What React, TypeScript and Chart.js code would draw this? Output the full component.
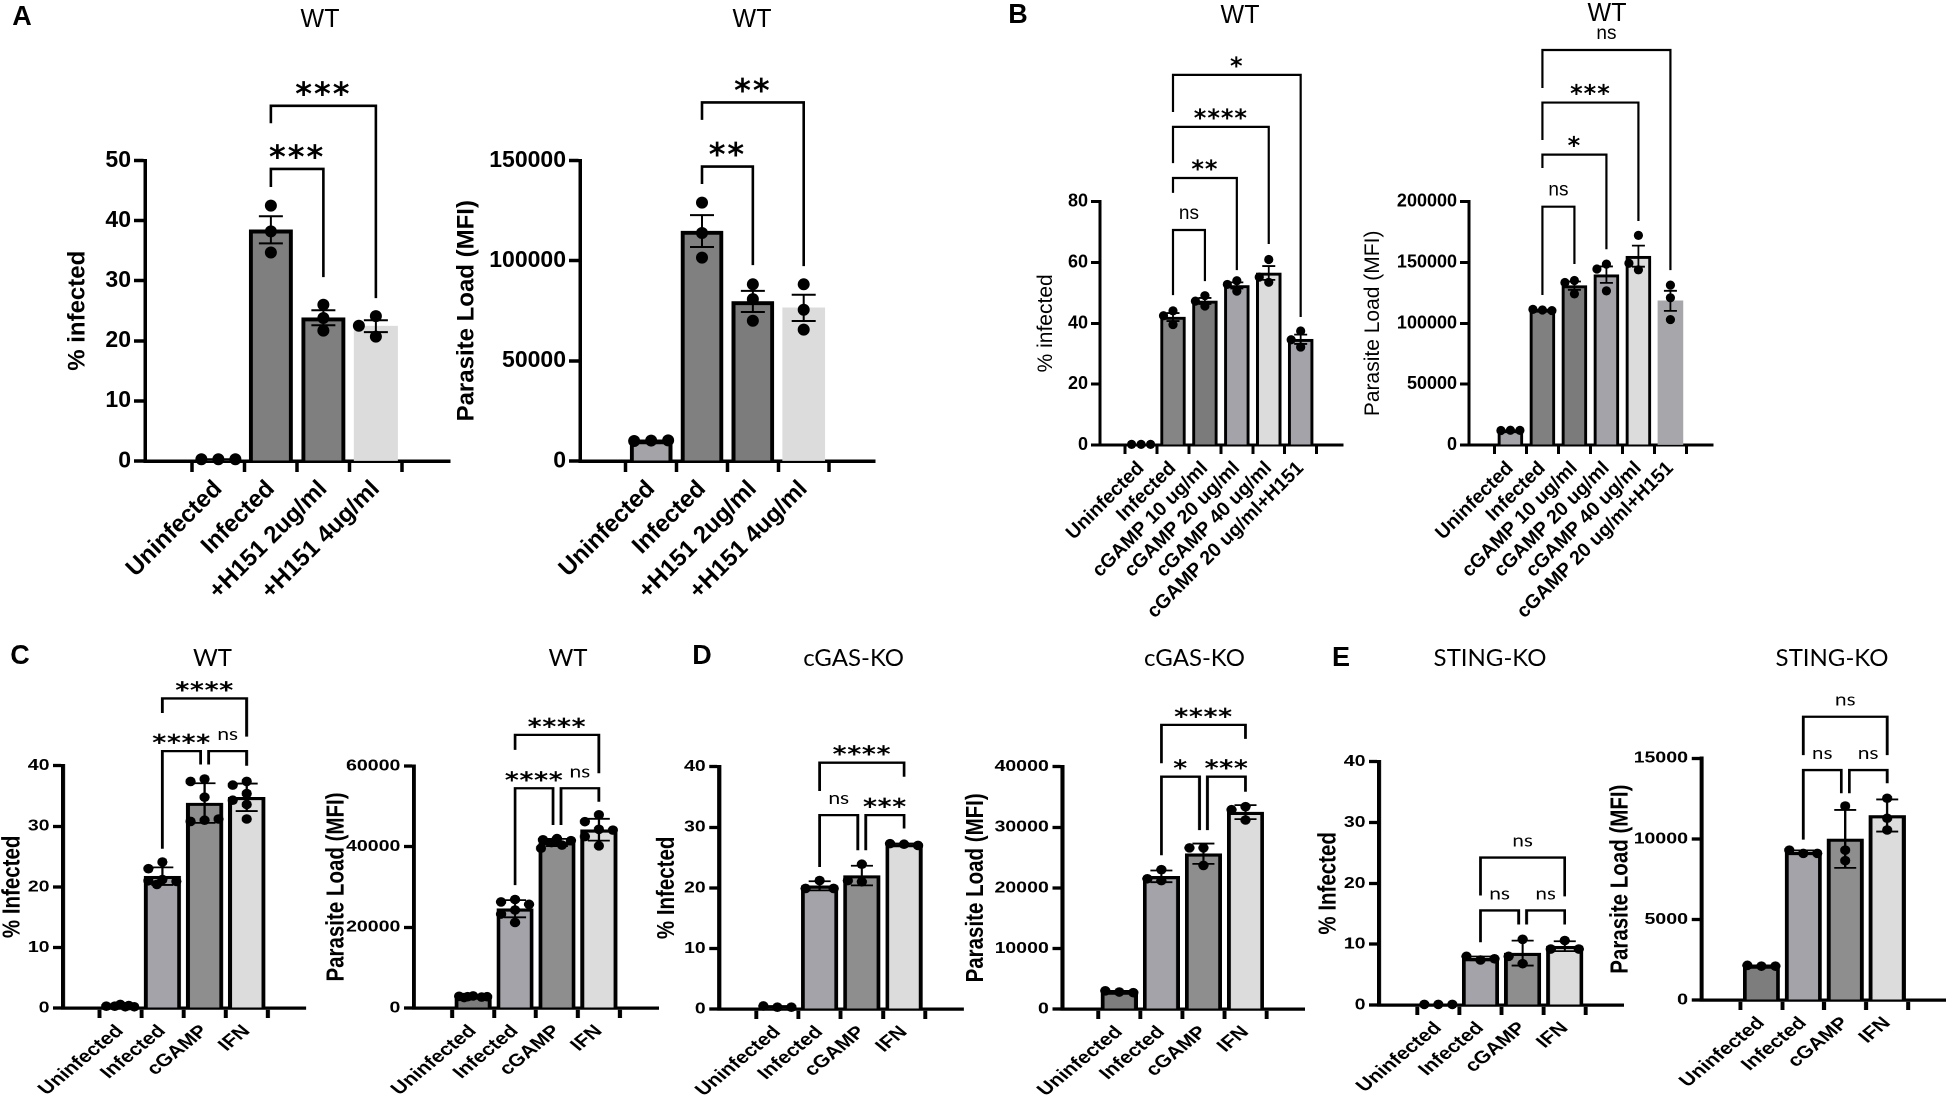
import { useEffect, useRef } from "react";
import { Chart, registerables } from "chart.js";
Chart.register(...registerables);

Chart.defaults.font.family = '"Liberation Sans", Arial, sans-serif';
Chart.defaults.color = "#000";

type Sig = [number, number, string];

// ---------- categories ----------
const catsA = ["Uninfected", "Infected", "+H151 2ug/ml", "+H151 4ug/ml"];
const catsB = ["Uninfected", "Infected", "cGAMP 10 ug/ml", "cGAMP 20 ug/ml", "cGAMP 40 ug/ml", "cGAMP 20 ug/ml+H151"];
const catsKO = ["Uninfected", "Infected", "cGAMP", "IFN"];

// ---------- y ticks ----------
const ticksA1 = [0, 10, 20, 30, 40, 50];
const ticksA2 = [0, 50000, 100000, 150000];
const ticksB1 = [0, 20, 40, 60, 80];
const ticksB2 = [0, 50000, 100000, 150000, 200000];
const ticksPct40 = [0, 10, 20, 30, 40];
const ticksC2 = [0, 20000, 40000, 60000];
const ticksD2 = [0, 10000, 20000, 30000, 40000];
const ticksE2 = [0, 5000, 10000, 15000];

// ---------- replicates (A, B: mean ± SEM; C-E: mean ± SD) ----------
const a1Uninfected = [0.3, 0.3, 0.3];
const a1Infected = [42.5, 38.2, 34.7];
const a1H151_2 = [26.0, 23.8, 21.7];
const a1H151_4 = [24.1, 20.7, 22.5];

const a2Uninfected = [10200, 10000, 10300];
const a2Infected = [129000, 113800, 101500];
const a2H151_2 = [88200, 80800, 70000];
const a2H151_4 = [88200, 75500, 65600];

const b1Uninfected = [0.2, 0.2, 0.2];
const b1Infected = [44.1, 39.6, 42.5];
const b1cGAMP10 = [49.1, 45.7, 47.3];
const b1cGAMP20 = [54.0, 50.6, 52.8];
const b1cGAMP40 = [61.0, 53.5, 55.2];
const b1cGAMP20H151 = [37.5, 32.2, 34.6];

const b2Uninfected = [12100, 11900, 12000];
const b2Infected = [111000, 111500, 110500];
const b2cGAMP10 = [135200, 124200, 133600];
const b2cGAMP20 = [148700, 126700, 144700];
const b2cGAMP40 = [172300, 144000, 149400];
const b2cGAMP20H151 = [131400, 121000, 103100];

const c1Uninfected = [0.6, 0.3, 0.2, 0.3, 0.2, 0.4];
const c1Infected = [24.1, 23.0, 21.2, 21.0, 20.9, 20.4];
const c1cGAMP = [37.8, 37.4, 31.0, 30.8, 31.2, 34.8];
const c1IFN = [37.4, 36.8, 35.4, 34.3, 33.6, 31.2];

const c2Uninfected = [3000, 2900, 2800, 2800, 2700, 2600];
const c2Infected = [26900, 26300, 25700, 24300, 23300, 21200];
const c2cGAMP = [42000, 41700, 41500, 41000, 40400, 39600];
const c2IFN = [47900, 46200, 44300, 44100, 42500, 40200];

const d1Uninfected = [0.3, 0.5, 0.3];
const d1Infected = [21.2, 19.9, 19.9];
const d1cGAMP = [23.9, 21.0, 21.2];
const d1IFN = [27.2, 27.3, 27.0];

const d2Uninfected = [2800, 3000, 2700];
const d2Infected = [23000, 21200, 21500];
const d2cGAMP = [26600, 23700, 26600];
const d2IFN = [33400, 31200, 32900];

const e1Uninfected = [0.1, 0.1, 0.1];
const e1Infected = [7.4, 8.0, 7.6];
const e1cGAMP = [10.8, 6.8, 8.0];
const e1IFN = [10.6, 9.2, 9.2];

const e2Uninfected = [2100, 2150, 2100];
const e2Infected = [9100, 9300, 9100];
const e2cGAMP = [12040, 9300, 8650];
const e2IFN = [12520, 11280, 10550];

// ---------- significance comparisons ----------
const sigA1: Sig[] = [[1, 2, "***"], [1, 3, "***"]];
const sigA2: Sig[] = [[1, 2, "**"], [1, 3, "**"]];
const sigB1: Sig[] = [[1, 2, "ns"], [1, 3, "**"], [1, 4, "****"], [1, 5, "*"]];
const sigB2: Sig[] = [[1, 2, "ns"], [1, 3, "*"], [1, 4, "***"], [1, 5, "ns"]];
const sigC: Sig[] = [[1, 2, "****"], [2, 3, "ns"], [1, 3, "****"]];
const sigD1: Sig[] = [[1, 2, "ns"], [2, 3, "***"], [1, 3, "****"]];
const sigD2: Sig[] = [[1, 2, "*"], [2, 3, "***"], [1, 3, "****"]];
const sigE: Sig[] = [[1, 2, "ns"], [2, 3, "ns"], [1, 3, "ns"]];

// ---------- styles ----------
const styleA = {
  k: 1, tickFont: 23, labelFont: 24, titleFont: 24, titleWeight: "bold", axisW: 3.5, tickLenX: 11, tickLenY: 11,
  barBorder: 4, errW: 2, capW: 24, r: 6, collide: 11.5, step: 17, maxOff: 17, bracketW: 2.6,
  starFont: 32, starSpacing: 2, nsFont: 19, nsFamily: '"Liberation Sans"', barPct: 0.62, xh: 200, padR: 10,
};
const styleB = {
  k: 1, tickFont: 18, labelFont: 19.5, titleFont: 21, titleWeight: "normal", axisW: 3, tickLenX: 9, tickLenY: 9,
  barBorder: 3, errW: 1.8, capW: 13, r: 4.6, collide: 8.5, step: 9.5, maxOff: 10, bracketW: 2.2,
  starFont: 24, starSpacing: 1, nsFont: 19, nsFamily: '"Liberation Sans"', barPct: 0.65, xh: 200, padR: 8,
};
const styleKO = {
  k: 1.22, tickFont: 16, labelFont: 17.5, titleFont: 20.5, titleWeight: "bold", axisW: 3.3, tickLenX: 10, tickLenY: 8,
  barBorder: 3.2, errW: 1.8, capW: 22, r: 4.8, collide: 9, step: 14, maxOff: 16, bracketW: 2.3,
  starFont: 22, starSpacing: 0.5, nsFont: 17, nsFamily: "Lato", barPct: 0.65, xh: 100, padR: 8,
};

const greysA1 = ["#a3a3a8", "#7f7f7f", "#7f7f7f", "#dcdcdc"];
const greysA2 = ["#a3a3a8", "#808080", "#7c7c7c", "#dcdcdc"];
const greysB1 = ["#a3a3a8", "#858585", "#7b7b7b", "#a3a3a9", "#dcdcdc", "#a3a3a9"];
const greysB2 = ["#a3a3a8", "#808080", "#7b7b7b", "#a3a3a9", "#dcdcdc", "#a6a6ab"];
const greysKO = ["#7d7d7d", "#a3a3a9", "#8e8e8e", "#dcdcdc"];

// ---------- panels (layout in page pixels, bracket heights in axis units) ----------
const PANELS = [
  {
    cats: catsA, groups: [a1Uninfected, a1Infected, a1H151_2, a1H151_4], ticks: ticksA1, sig: sigA1, err: "sem",
    yTitle: "% infected", colors: greysA1, borders: [1, 1, 1, 0], style: styleA,
    place: { left: 145, top: 160.5, right: 450, base: 460.7, tick0: 192, spacing: 70, titleOff: 67, rowTop: 0,
      brackets: [[48.6, 45.6, 30.6], [59.1, 56.2, 27.1]] },
  },
  {
    cats: catsA, groups: [a2Uninfected, a2Infected, a2H151_2, a2H151_4], ticks: ticksA2, sig: sigA2, err: "sem",
    yTitle: "Parasite Load (MFI)", colors: greysA2, borders: [1, 1, 1, 0], style: styleA,
    place: { left: 580, top: 160.5, right: 875, base: 460.7, tick0: 625.7, spacing: 67.8, titleOff: 113, rowTop: 0,
      brackets: [[146960, 138270, 97790], [179000, 170250, 97290]] },
  },
  {
    cats: catsB, groups: [b1Uninfected, b1Infected, b1cGAMP10, b1cGAMP20, b1cGAMP40, b1cGAMP20H151], ticks: ticksB1,
    sig: sigB1, err: "sem", yTitle: "% infected", colors: greysB1, borders: [1, 1, 1, 1, 1, 1], style: styleB,
    place: { left: 1100, top: 201.7, right: 1343, base: 445, tick0: 1125, spacing: 38.3, titleOff: 54, rowTop: 0,
      brackets: [[70.7, 49.3, 53.9], [87.8, 82.9, 57.5], [104.6, 92.7, 66.1], [121.7, 109.5, 42.1]] },
  },
  {
    cats: catsB, groups: [b2Uninfected, b2Infected, b2cGAMP10, b2cGAMP20, b2cGAMP40, b2cGAMP20H151], ticks: ticksB2,
    sig: sigB2, err: "sem", yTitle: "Parasite Load (MFI)", colors: greysB2, borders: [1, 1, 1, 1, 1, 0], style: styleB,
    place: { left: 1469, top: 201.7, right: 1713, base: 445, tick0: 1494.3, spacing: 38.4, titleOff: 96, rowTop: 0,
      brackets: [[195900, 123300, 148800], [238700, 227700, 160900], [281500, 250700, 184100], [324700, 293500, 143800]] },
  },
  {
    cats: catsKO, groups: [c1Uninfected, c1Infected, c1cGAMP, c1IFN], ticks: ticksPct40, sig: sigC, err: "sd",
    yTitle: "% Infected", colors: greysKO, borders: [1, 1, 1, 1], style: styleKO,
    place: { left: 63, top: 765.7, right: 306, base: 1007.7, tick0: 99, spacing: 56.2, titleOff: 50, rowTop: 665,
      brackets: [[42.4, 26.3, 40.2], [42.4, 40.2, 40.0], [51.1, 48.7, 44.8]] },
  },
  {
    cats: catsKO, groups: [c2Uninfected, c2Infected, c2cGAMP, c2IFN], ticks: ticksC2, sig: sigC, err: "sd",
    yTitle: "Parasite Load (MFI)", colors: greysKO, borders: [1, 1, 1, 1], style: styleKO,
    place: { left: 413.3, top: 766, right: 658, base: 1007.7, tick0: 451.7, spacing: 55.9, titleOff: 77, rowTop: 665,
      brackets: [[54480, 30470, 45370], [54480, 45370, 51150], [67710, 63990, 58200]] },
  },
  {
    cats: catsKO, groups: [d1Uninfected, d1Infected, d1cGAMP, d1IFN], ticks: ticksPct40, sig: sigD1, err: "sd",
    yTitle: "% Infected", colors: greysKO, borders: [1, 1, 1, 1], style: styleKO,
    place: { left: 719, top: 766.7, right: 963, base: 1008.3, tick0: 756, spacing: 56.3, titleOff: 52, rowTop: 665,
      brackets: [[32.0, 23.44, 26.2], [32.0, 26.2, 29.8], [40.66, 35.98, 38.35]] },
  },
  {
    cats: catsKO, groups: [d2Uninfected, d2Infected, d2cGAMP, d2IFN], ticks: ticksD2, sig: sigD2, err: "sd",
    yTitle: "Parasite Load (MFI)", colors: greysKO, borders: [1, 1, 1, 1], style: styleKO,
    place: { left: 1062, top: 766.7, right: 1304, base: 1008.3, tick0: 1097.7, spacing: 56.1, titleOff: 86, rowTop: 665,
      brackets: [[38350, 25390, 29530], [38350, 29530, 35870], [46910, 40570, 44600]] },
  },
  {
    cats: catsKO, groups: [e1Uninfected, e1Infected, e1cGAMP, e1IFN], ticks: ticksPct40, sig: sigE, err: "sd",
    yTitle: "% Infected", colors: greysKO, borders: [1, 1, 1, 1], style: styleKO,
    place: { left: 1378.6, top: 761.7, right: 1623, base: 1004.3, tick0: 1417.1, spacing: 56.2, titleOff: 50, rowTop: 665,
      brackets: [[15.55, 10.32, 13.24], [15.55, 13.24, 13.24], [24.24, 18.0, 17.86]] },
  },
  {
    cats: catsKO, groups: [e2Uninfected, e2Infected, e2cGAMP, e2IFN], ticks: ticksE2, sig: sigE, err: "sd",
    yTitle: "Parasite Load (MFI)", colors: greysKO, borders: [1, 1, 1, 1], style: styleKO,
    place: { left: 1701.5, top: 758.3, right: 1945.7, base: 1000, tick0: 1740.8, spacing: 55.9, titleOff: 80.5, rowTop: 665,
      brackets: [[14270, 9950, 12830], [14270, 12830, 13450], [17580, 15200, 15200]] },
  },
];

const LETTERS: [string, number, number][] = [["A", 22, 16], ["B", 1018, 14], ["C", 20, 655], ["D", 702, 655], ["E", 1341, 657]];
const TITLES: [string, number, number, number, string][] = [
  ["WT", 320, 18, 25, '"Liberation Sans"'],
  ["WT", 752, 18, 25, '"Liberation Sans"'],
  ["WT", 1240, 13.5, 25, '"Liberation Sans"'],
  ["WT", 1607, 11.5, 25, '"Liberation Sans"'],
  ["WT", 212.5, 657, 24, "Lato"],
  ["WT", 568, 657, 24, "Lato"],
  ["cGAS-KO", 853.6, 657, 24, "Lato"],
  ["cGAS-KO", 1194.5, 657, 24, "Lato"],
  ["STING-KO", 1490, 657, 24, "Lato"],
  ["STING-KO", 1832, 657, 24, "Lato"],
];

const mean = (a: number[]) => a.reduce((s, v) => s + v, 0) / a.length;
const sd = (a: number[]) => {
  const m = mean(a);
  return Math.sqrt(a.reduce((s, v) => s + (v - m) ** 2, 0) / (a.length - 1));
};
const sem = (a: number[]) => sd(a) / Math.sqrt(a.length);

// horizontal spread of replicate dots that would overlap (offsets in page px)
function swarm(ys: number[], collide: number, step: number, maxOff: number) {
  const placed: { o: number; y: number }[] = [];
  const cands = [0];
  for (let j = 1; j * step <= maxOff + 0.01; j++) cands.push(-j * step, j * step);
  const fine: number[] = [];
  for (let o = -maxOff; o <= maxOff + 0.01; o += step / 4) fine.push(o);
  return ys.map((y) => {
    let pick = cands.find((c) => placed.every((p) => Math.hypot(p.o - c, p.y - y) >= collide));
    if (pick === undefined) {
      let best = 0, bestD = -1;
      for (const c of fine) {
        const d = Math.min(...placed.map((p) => Math.hypot(p.o - c, p.y - y)));
        if (d > bestD) { bestD = d; best = c; }
      }
      pick = best;
    }
    placed.push({ o: pick, y });
    return pick;
  });
}

function overlay(panel: any, means: number[]) {
  const st = panel.style;
  const k = st.k;
  return {
    id: "overlay",
    afterDraw(chart: any) {
      const { ctx, chartArea } = chart;
      const xs = chart.scales.x;
      const ys = chart.scales.y;
      ctx.save();
      ctx.strokeStyle = "#000";
      ctx.fillStyle = "#000";
      ctx.lineCap = "butt";
      ctx.lineJoin = "miter";

      // error bars
      ctx.lineWidth = st.errW;
      panel.groups.forEach((vals: number[], i: number) => {
        const e = panel.err === "sem" ? sem(vals) : sd(vals);
        const x = xs.getPixelForValue(i);
        const y1 = ys.getPixelForValue(means[i] + e);
        const y2 = ys.getPixelForValue(Math.max(0, means[i] - e));
        const hw = st.capW / 2 / k;
        ctx.beginPath();
        ctx.moveTo(x, y1); ctx.lineTo(x, y2);
        ctx.moveTo(x - hw, y1); ctx.lineTo(x + hw, y1);
        ctx.moveTo(x - hw, y2); ctx.lineTo(x + hw, y2);
        ctx.stroke();
      });

      // replicate dots
      panel.groups.forEach((vals: number[], i: number) => {
        const x = xs.getPixelForValue(i);
        const py = vals.map((v) => ys.getPixelForValue(v));
        const off = swarm(py, st.collide, st.step, st.maxOff);
        py.forEach((y, j) => {
          ctx.beginPath();
          ctx.ellipse(x + off[j] / k, y, (st.r * (k > 1 ? 1.07 : 1)) / k, st.r, 0, 0, Math.PI * 2);
          ctx.fill();
        });
      });

      // significance brackets
      const br = panel.place.brackets;
      ctx.lineWidth = st.bracketW;
      panel.sig.forEach(([a, b, label]: Sig, j: number) => {
        const [yl, ya, yb] = br[j];
        const gap = 4 / k;
        const shareA = panel.sig.some((s: Sig, j2: number) => j2 !== j && br[j2][0] === yl && s[1] === a);
        const shareB = panel.sig.some((s: Sig, j2: number) => j2 !== j && br[j2][0] === yl && s[0] === b);
        const xa = xs.getPixelForValue(a) + (shareA ? gap : 0);
        const xb = xs.getPixelForValue(b) - (shareB ? gap : 0);
        const pl = ys.getPixelForValue(yl);
        ctx.beginPath();
        ctx.moveTo(xa, ys.getPixelForValue(ya));
        ctx.lineTo(xa, pl);
        ctx.lineTo(xb, pl);
        ctx.lineTo(xb, ys.getPixelForValue(yb));
        ctx.stroke();
        const ns = label === "ns";
        ctx.font = ns ? `${st.nsFont}px ${st.nsFamily}` : `bold ${st.starFont}px "DejaVu Sans"`;
        (ctx as any).letterSpacing = ns ? "0px" : `${st.starSpacing}px`;
        ctx.textAlign = "center";
        ctx.textBaseline = "alphabetic";
        ctx.fillText(label, (xa + xb) / 2, pl - (ns ? 11 : 1));
      });
      (ctx as any).letterSpacing = "0px";

      // y axis title
      ctx.translate(chartArea.left - panel.place.titleOff / k, (chartArea.top + chartArea.bottom) / 2);
      ctx.rotate(-Math.PI / 2);
      ctx.font = `${st.titleWeight} ${st.titleFont}px "Liberation Sans"`;
      ctx.textAlign = "center";
      ctx.textBaseline = "middle";
      ctx.fillText(panel.yTitle, 0, 0);
      ctx.restore();
    },
  };
}

function BarPanel({ panel }: { panel: any }) {
  const ref = useRef<HTMLCanvasElement>(null);
  const pl = panel.place;
  const st = panel.style;
  const k = st.k;
  const plotW = (pl.right - pl.left) / k;
  const yw = Math.ceil(pl.titleOff / k + st.titleFont * 0.6);
  const padT = pl.top - pl.rowTop;
  const cw = Math.ceil(yw + plotW + st.padR);
  const ch = Math.ceil(padT + (pl.base - pl.top) + st.xh);
  const padR = cw - yw - plotW;

  useEffect(() => {
    if (!ref.current) return;
    const means = panel.groups.map(mean);
    const lineGrid = (len: number) => ({
      display: true, drawOnChartArea: false, drawTicks: true, tickLength: len, tickWidth: st.axisW, color: "#000",
    });
    const chart = new Chart(ref.current, {
      type: "bar",
      data: {
        datasets: [{
          data: means.map((m: number, i: number) => ({ x: i, y: m })),
          backgroundColor: panel.colors,
          borderColor: "#000",
          borderWidth: panel.borders.map((b: number) => b * st.barBorder),
          barThickness: (st.barPct * pl.spacing) / k,
        }],
      },
      options: {
        responsive: false,
        animation: false,
        devicePixelRatio: 2,
        events: [],
        layout: { padding: { top: padT, right: padR, bottom: 0, left: 0 } },
        plugins: { legend: { display: false }, tooltip: { enabled: false } },
        scales: {
          x: {
            type: "linear", bounds: "data", z: 1,
            min: -(pl.tick0 - pl.left) / pl.spacing,
            max: (pl.right - pl.tick0) / pl.spacing,
            afterBuildTicks: (s: any) => { s.ticks = panel.cats.map((_: string, i: number) => ({ value: i })); },
            afterFit: (s: any) => { s.height = st.xh; s.paddingLeft = 0; s.paddingRight = 0; },
            ticks: {
              autoSkip: false, minRotation: 45, maxRotation: 45, padding: 3, color: "#000",
              font: { size: st.labelFont, weight: "bold" },
              callback: (v: any) => panel.cats[v],
            },
            grid: lineGrid(st.tickLenX),
            border: { display: true, color: "#000", width: st.axisW },
          },
          y: {
            type: "linear", bounds: "data", z: 1,
            min: 0, max: panel.ticks[panel.ticks.length - 1],
            afterBuildTicks: (s: any) => { s.ticks = panel.ticks.map((v: number) => ({ value: v })); },
            afterFit: (s: any) => { s.width = yw; s.paddingTop = 0; s.paddingBottom = 0; },
            ticks: { padding: 3, color: "#000", font: { size: st.tickFont, weight: "bold" }, callback: (v: any) => String(v) },
            grid: lineGrid(st.tickLenY),
            border: { display: true, color: "#000", width: st.axisW },
          },
        },
      },
      plugins: [overlay(panel, means)],
    } as any);
    return () => chart.destroy();
  }, [panel]);

  return (
    <div
      style={{
        position: "absolute", left: pl.left - yw * k, top: pl.rowTop, width: cw, height: ch,
        transform: k !== 1 ? `scaleX(${k})` : undefined, transformOrigin: "0 0",
      }}
    >
      <canvas ref={ref} width={cw} height={ch} style={{ width: cw, height: ch, display: "block" }} />
    </div>
  );
}

export default function App() {
  return (
    <div style={{ position: "absolute", left: 0, top: 0, width: 1949, height: 1102, overflow: "hidden", background: "#fff" }}>
      {PANELS.map((p, i) => <BarPanel key={i} panel={p} />)}
      {TITLES.map(([t, x, y, size, fam], i) => (
        <div key={"t" + i} style={{
          position: "absolute", left: x, top: y, transform: "translate(-50%, -50%)", fontFamily: fam,
          fontSize: size, lineHeight: 1, whiteSpace: "nowrap", color: "#000",
        }}>{t}</div>
      ))}
      {LETTERS.map(([t, x, y], i) => (
        <div key={"l" + i} style={{
          position: "absolute", left: x, top: y, transform: "translate(-50%, -50%)",
          fontFamily: '"Liberation Sans", Arial, sans-serif', fontWeight: "bold", fontSize: 27, lineHeight: 1, color: "#000",
        }}>{t}</div>
      ))}
    </div>
  );
}
